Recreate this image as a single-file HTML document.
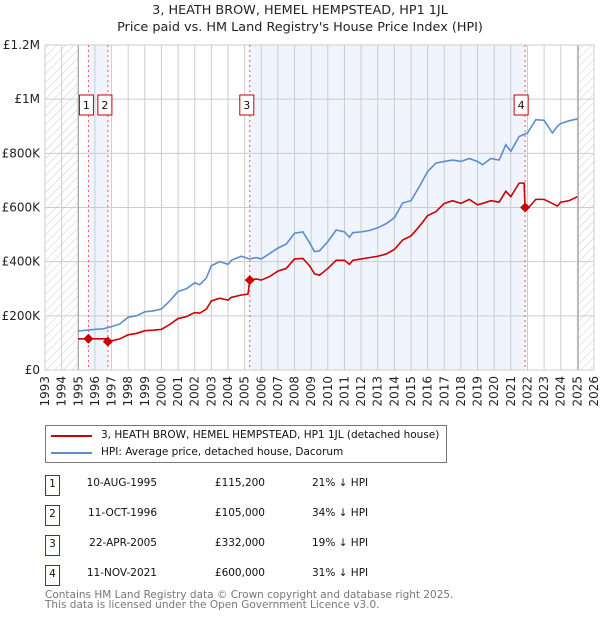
<!DOCTYPE html>
<html><head><meta charset="utf-8">
<style>
body{margin:0;background:#fff;font-family:"Liberation Sans","DejaVu Sans",sans-serif;}
#wrap{position:relative;width:600px;height:620px;overflow:hidden;}
svg text{font-family:"DejaVu Sans","Liberation Sans",sans-serif;}
</style></head>
<body>
<div id="wrap">
<svg id="chart" width="600" height="620" xmlns="http://www.w3.org/2000/svg">
<defs>
<pattern id="hatch" patternUnits="userSpaceOnUse" width="6" height="6" patternTransform="rotate(45)">
<line x1="0" y1="0" x2="0" y2="6" stroke="#ccc" stroke-width="1"/>
</pattern>
</defs>
<text x="300" y="14" text-anchor="middle" font-size="12.8" fill="#222">3, HEATH BROW, HEMEL HEMPSTEAD, HP1 1JL</text>
<text x="300" y="31" text-anchor="middle" font-size="12.8" fill="#222">Price paid vs. HM Land Registry's House Price Index (HPI)</text>
<g id="plot"></g>
</svg>

<div style="position:absolute;left:45px;top:425px;width:400px;height:36px;border:1px solid #777;font-family:'DejaVu Sans','Liberation Sans',sans-serif;font-size:10.5px;color:#111;">
  <div style="position:absolute;left:5px;top:9px;width:41px;height:2px;background:#cc0000"></div>
  <div style="position:absolute;left:55px;top:3px;white-space:nowrap">3, HEATH BROW, HEMEL HEMPSTEAD, HP1 1JL (detached house)</div>
  <div style="position:absolute;left:5px;top:26px;width:41px;height:2px;background:#5b8dd0"></div>
  <div style="position:absolute;left:55px;top:20px;white-space:nowrap">HPI: Average price, detached house, Dacorum</div>
</div>

<div id="table" style="position:absolute;left:0;top:0;font-family:'DejaVu Sans','Liberation Sans',sans-serif;font-size:10.5px;color:#111;"></div>

<div style="position:absolute;left:45px;top:590px;font-family:'DejaVu Sans','Liberation Sans',sans-serif;font-size:10.5px;color:#777;line-height:10px;white-space:nowrap">Contains HM Land Registry data © Crown copyright and database right 2025.<br>This data is licensed under the Open Government Licence v3.0.</div>
</div>

<script>
const hpiYears=[1995,1995.5,1996,1996.5,1997,1997.5,1998,1998.5,1999,1999.5,2000,2000.5,2001,2001.5,2002,2002.3,2002.7,2003,2003.5,2004,2004.2,2004.8,2005.3,2005.7,2006,2006.5,2007,2007.5,2008,2008.5,2008.9,2009.2,2009.5,2010,2010.5,2011,2011.3,2011.5,2012,2012.5,2013,2013.5,2014,2014.5,2015,2015.5,2016,2016.5,2017,2017.5,2018,2018.5,2019,2019.3,2019.8,2020.3,2020.7,2021,2021.5,2022,2022.5,2023,2023.5,2023.8,2024,2024.5,2025];
const hpiValues=[144,147,150,152,160,170,195,200,215,218,225,255,290,300,322,315,340,385,400,390,405,420,410,415,410,430,450,465,505,510,470,437,440,474,517,510,490,507,510,515,525,540,562,617,625,677,733,764,770,775,770,781,770,758,781,775,832,807,862,875,924,922,875,900,910,920,927];
const redYears=[1995,1995.61,1996.78,1996.8,1997,1997.5,1998,1998.5,1999,1999.5,2000,2000.5,2001,2001.5,2002,2002.3,2002.7,2003,2003.5,2004,2004.2,2004.8,2005.2,2005.31,2005.7,2006,2006.5,2007,2007.5,2008,2008.5,2008.9,2009.2,2009.5,2010,2010.5,2011,2011.3,2011.5,2012,2012.5,2013,2013.5,2014,2014.5,2015,2015.5,2016,2016.5,2017,2017.5,2018,2018.5,2019,2019.3,2019.8,2020.3,2020.7,2021,2021.5,2021.8,2021.86,2022,2022.5,2023,2023.5,2023.8,2024,2024.5,2025];
const redValues=[115,115.2,115,105,108,115,130,135,145,147,150,168,190,197,212,210,225,255,265,258,268,277,280,332,336,332,345,365,375,410,412,385,355,350,375,405,405,390,405,410,415,420,428,445,480,495,530,570,585,615,625,615,630,610,615,625,620,660,640,690,690,600,595,630,630,615,605,620,625,640];
const saleLabels=["1","2","3","4"];
const saleYears=[1995.61,1996.78,2005.31,2021.86];
const saleValues=[115.2,105,332,600];
const saleDates=["10-AUG-1995","11-OCT-1996","22-APR-2005","11-NOV-2021"];
const salePrices=["£115,200","£105,000","£332,000","£600,000"];
const saleDiffs=["21% ↓ HPI","34% ↓ HPI","19% ↓ HPI","31% ↓ HPI"];
const yTicks=[0,200,400,600,800,1000,1200];
const yTickLabels=["£0","£200K","£400K","£600K","£800K","£1M","£1.2M"];
const xStart=1993,xEnd=2026;

const L=45,R=594,T=45,B=370;
const X=y=>L+(y-xStart)/(xEnd-xStart)*(R-L);
const Y=v=>B-v/1200*(B-T);
const NS="http://www.w3.org/2000/svg";
const g=document.getElementById('plot');
function mk(tag,attrs,parent){const e=document.createElementNS(NS,tag);for(const k in attrs)e.setAttribute(k,attrs[k]);(parent||g).appendChild(e);return e;}

let s1=mk('rect',{x:X(saleYears[0]),y:T,width:X(saleYears[1])-X(saleYears[0]),height:B-T,fill:'#f0f4fc'});


let s2=mk('rect',{x:X(saleYears[2]),y:T,width:X(saleYears[3])-X(saleYears[2]),height:B-T,fill:'#f0f4fc'});


let h1=mk('rect',{x:L,y:T,width:X(1995)-L,height:B-T,fill:'url(#hatch)'});


let h2=mk('rect',{x:X(2025.05),y:T,width:R-X(2025.05),height:B-T,fill:'url(#hatch)'});



for(let yr=xStart;yr<=xEnd;yr++){
  const l=mk('line',{x1:X(yr),x2:X(yr),y1:T,y2:B,stroke:'#ccc','stroke-width':1});
  
  
  const t=mk('text',{x:0,y:0,transform:`translate(${X(yr)+4},${B+6}) rotate(-90)`,'text-anchor':'end','font-size':12,fill:'#222'});
  t.textContent=yr;
  
  
}
yTicks.forEach((v,i)=>{
  const l=mk('line',{x1:L,x2:R,y1:Y(v),y2:Y(v),stroke:'#ccc','stroke-width':1});
  
  
  const t=mk('text',{x:40,y:Y(v)+4,'text-anchor':'end','font-size':12,fill:'#222'});
  t.textContent=yTickLabels[i];
  
  
});
let b1=mk('line',{x1:X(1995),x2:X(1995),y1:T,y2:B,stroke:'#999','stroke-width':1});


let b2=mk('line',{x1:X(2025.05),x2:X(2025.05),y1:T,y2:B,stroke:'#999','stroke-width':1});


let fr=mk('rect',{x:L,y:T,width:R-L,height:B-T,fill:'none',stroke:'#ccc'});



saleYears.forEach((yr,i)=>{
  const l=mk('line',{x1:X(yr),x2:X(yr),y1:T,y2:B,stroke:'#e55','stroke-width':1,'stroke-dasharray':'2,3'});
  
  
});

const hp=mk('polyline',{points:hpiYears.map((y,i)=>X(y)+','+Y(hpiValues[i])).join(' '),fill:'none',stroke:'#5b8dd0','stroke-width':1.6});


const rp=mk('polyline',{points:redYears.map((y,i)=>X(y)+','+Y(redValues[i])).join(' '),fill:'none',stroke:'#cc0000','stroke-width':1.6});



saleYears.forEach((yr,i)=>{
  const cx=X(yr),cy=Y(saleValues[i]);
  const d=mk('polygon',{points:`${cx},${cy-5} ${cx+5},${cy} ${cx},${cy+5} ${cx-5},${cy}`,fill:'#cc0000'});
  
  
  const bx=mk('rect',{x:cx-(i==3?11:i==2?10:i==1?10:9),y:95,width:14,height:20,fill:'#fff',stroke:'#cc0000'});
  
  
  const t=mk('text',{x:cx-(i==3?4:i==2?3:i==1?3:2),y:109,'text-anchor':'middle','font-size':11,fill:'#111'});
  t.textContent=saleLabels[i];
  
  
});

const tb=document.getElementById('table');
saleLabels.forEach((lab,i)=>{
  const top=475+i*30;
  const row=document.createElement('div');
  
  
  row.style.cssText=`position:absolute;left:0;top:${top}px;width:600px;height:20px;`;
  row.innerHTML=`<div style="position:absolute;left:45px;top:0;width:13px;height:19px;border:1px solid #cc0000;text-align:center;line-height:17px">${lab}</div>
<div style="position:absolute;left:77px;width:80px;text-align:right;top:2px;white-space:nowrap">${saleDates[i]}</div>
<div style="position:absolute;left:180px;width:85px;text-align:right;top:2px">${salePrices[i]}</div>
<div style="position:absolute;left:312px;top:2px;white-space:nowrap">${saleDiffs[i]}</div>`;
  tb.appendChild(row);
});
</script>
</body></html>
